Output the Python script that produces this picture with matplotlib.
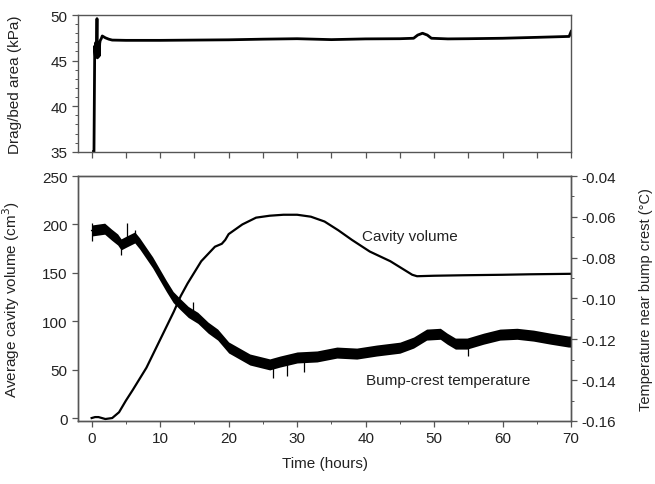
import matplotlib
matplotlib.use("Agg")
import matplotlib.pyplot as plt
from matplotlib.ticker import MultipleLocator
import numpy as np

plt.rcParams['font.family'] = ['Liberation Sans', 'DejaVu Sans']
plt.rcParams['font.size'] = 11

# Drag / bed area (kPa)
drag_t = [0.30, 0.34, 0.45, 0.55, 0.62, 0.70, 0.78, 0.83, 0.88, 0.95, 1.02, 1.10, 1.18, 1.25, 1.40, 1.55,
          2.0, 2.5, 3.0, 5, 10, 15, 20, 25, 30, 35, 40, 45, 47.0, 47.6, 48.3, 49.0, 49.6, 52, 55, 60, 65, 69.7, 70.0]
drag_v = [35.0, 35.0, 46.6, 45.4, 47.0, 45.5, 49.6, 45.3, 47.0, 45.4, 46.8, 45.5, 46.9, 47.2, 47.4, 47.7,
          47.5, 47.35, 47.25, 47.22, 47.22, 47.25, 47.28, 47.35, 47.40, 47.30, 47.38, 47.40, 47.45, 47.80, 48.00, 47.80, 47.45,
          47.38, 47.40, 47.45, 47.55, 47.65, 48.2]

# Cavity volume (cm^3)
cav_t = [0, 0.5, 1.0, 2.0, 3.0, 3.5, 4, 5, 6, 8, 10, 12, 13, 14, 16, 18, 19, 19.5, 20, 22, 24, 26, 28, 30,
         32, 34, 36, 38, 40.6, 43.6, 46.8, 47.5, 50, 54.3, 60, 64, 70]
cav_v = [0, 1, 1, -1, 0, 3, 6, 18, 29, 52, 81, 110, 126, 139, 162, 177, 180, 184, 190, 200, 207, 209, 210, 210,
         208, 203, 194, 184, 172, 162, 148, 146.5, 147, 147.5, 148, 148.5, 149]

# Bump-crest temperature (deg C): centre of the noisy trace
temp_t = [0, 1.9, 2.9, 3.8, 4.3, 5.1, 6.3, 7.0, 8.0, 8.9, 9.9, 10.9, 11.9, 12.9, 14.1, 15.5, 17.0, 18.4,
          20.0, 23.1, 26.0, 27.5, 30.0, 32.9, 35.8, 38.7, 41.6, 45.0, 47.0, 48.9, 50.9, 51.9, 53.1, 54.8,
          57.2, 59.6, 62.1, 64.5, 67.0, 69.6, 70.0]
temp_v = [-0.0667, -0.0658, -0.0687, -0.0711, -0.0735, -0.0721, -0.0701, -0.0730, -0.0779, -0.0823,
          -0.0881, -0.0939, -0.0993, -0.1027, -0.1066, -0.1095, -0.1143, -0.1177, -0.1240, -0.1299,
          -0.1323, -0.1309, -0.1289, -0.1284, -0.1265, -0.1270, -0.1255, -0.1241, -0.1216, -0.1177,
          -0.1173, -0.1197, -0.1221, -0.1221, -0.1197, -0.1177, -0.1173, -0.1182, -0.1197, -0.1211, -0.1211]
# Half-width of the noise band (deg C)
temp_noise = 0.0027
# Isolated noise spikes: time, low, high (deg C)
spike_t = [0.0, 4.3, 5.1, 6.3, 14.8, 26.5, 28.5, 31.0, 55.0]
spike_lo = [-0.0716, -0.0789, -0.0730, -0.0720, -0.1080, -0.1390, -0.1380, -0.1360, -0.1284]
spike_hi = [-0.0628, -0.0720, -0.0628, -0.0662, -0.1017, -0.1310, -0.1300, -0.1280, -0.1200]

spine_col = '#555555'
text_col = '#222222'

fig = plt.figure(figsize=(6.55, 4.85), dpi=100)
ax1 = fig.add_axes([0.119, 0.685, 0.753, 0.282])
ax2 = fig.add_axes([0.119, 0.130, 0.753, 0.505])
ax3 = ax2.twinx()

for a in (ax1, ax2, ax3):
    for s in a.spines.values():
        s.set_color(spine_col)
        s.set_linewidth(1.0)
    a.tick_params(colors=spine_col, labelcolor=text_col, labelsize=11, direction='out', length=4, width=0.9)
    a.tick_params(which='minor', colors=spine_col, direction='out', length=2.5, width=0.7)

# Top panel
ax1.plot(drag_t, drag_v, color='black', lw=2.0, solid_joinstyle='round')
ax1.set_xlim(-2, 70)
ax1.set_ylim(35, 50)
ax1.set_yticks([35, 40, 45, 50])
ax1.yaxis.set_minor_locator(MultipleLocator(1))
ax1.set_xticks(np.arange(0, 71, 5))
ax1.set_xticklabels([])
ax1.set_ylabel('Drag/bed area (kPa)', color=text_col)
ax1.yaxis.set_label_coords(-0.114, 0.5)

# Bottom panel
ax2.plot(cav_t, cav_v, color='black', lw=1.6)
ax2.set_xlim(-2, 70)
ax2.set_ylim(-3, 250)
ax2.set_yticks([0, 50, 100, 150, 200, 250])
ax2.set_xticks(np.arange(0, 71, 10))
ax2.xaxis.set_minor_locator(MultipleLocator(5))
ax2.set_xlabel('Time (hours)', color=text_col, labelpad=8)
ax2.set_ylabel('Average cavity volume (cm$^3$)', color=text_col)
ax2.yaxis.set_label_coords(-0.114, 0.5)

tt = np.array(temp_t)
tv = np.array(temp_v)
ax3.fill_between(tt, tv - temp_noise, tv + temp_noise, color='black', lw=0)
ax3.plot(tt, tv, color='black', lw=1.0)
ax3.vlines(spike_t, spike_lo, spike_hi, color='black', lw=0.9)
ax3.set_ylim(-0.16, -0.04)
ax3.set_yticks([-0.16, -0.14, -0.12, -0.10, -0.08, -0.06, -0.04])
ax3.set_yticklabels(['-0.16', '-0.14', '-0.12', '-0.10', '-0.08', '-0.06', '-0.04'])
ax3.yaxis.set_minor_locator(MultipleLocator(0.01))
ax3.set_ylabel('Temperature near bump crest (\u00b0C)', color=text_col, fontsize=10.5)
ax3.yaxis.set_label_coords(1.137, 0.5)

ax2.text(46.5, 188, 'Cavity volume', ha='center', va='center', fontsize=11, color=text_col)
ax2.text(52, 39, 'Bump-crest temperature', ha='center', va='center', fontsize=11, color=text_col)

fig.savefig('out.png', dpi=100)
